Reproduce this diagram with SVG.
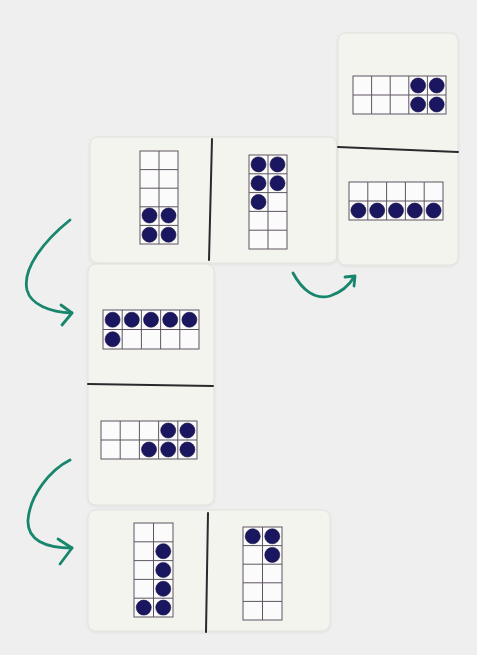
<svg xmlns="http://www.w3.org/2000/svg" width="477" height="655" viewBox="0 0 477 655">
  <defs>
    <style>
      .bg { fill: #efeff0; }
      .card { fill: #f4f4ef; stroke: #e2e2dc; stroke-width: 1; }
      .div { stroke: #2a2a2e; stroke-width: 2; fill: none; stroke-linecap: round; }
      .frame { fill: #fbfbfb; stroke: #5e5560; stroke-width: 1; }
      .grid { stroke: #5e5560; stroke-width: 1; fill: none; }
      .dot { fill: #1b1660; stroke: #0f0c3a; stroke-width: 0.6; }
      .arrow { stroke: #17866c; stroke-width: 2.8; fill: none; stroke-linecap: round; stroke-linejoin: round; }
    </style>
    <filter id="sh" x="-10%" y="-10%" width="120%" height="120%">
      <feDropShadow dx="0" dy="1" stdDeviation="1.5" flood-color="#000" flood-opacity="0.08"/>
    </filter>
  </defs>

  <rect class="bg" x="0" y="0" width="477" height="655"/>

  <!-- Card 1: horizontal domino, 4 | 5 -->
  <g id="card1">
    <rect class="card" filter="url(#sh)" x="90" y="137" width="247" height="126" rx="8"/>
    <path class="div" d="M212,139 L209,260"/>
    <rect class="frame" x="140" y="151" width="38" height="93"/>
    <path class="grid" d="M159,151 V244 M140,169.6 H178 M140,188.2 H178 M140,206.8 H178 M140,225.4 H178"/>
    <circle class="dot" cx="149.5" cy="215.5" r="7.5"/>
    <circle class="dot" cx="168.5" cy="215.5" r="7.5"/>
    <circle class="dot" cx="149.5" cy="234.7" r="7.5"/>
    <circle class="dot" cx="168.5" cy="234.7" r="7.5"/>
    <rect class="frame" x="249" y="155" width="38" height="94"/>
    <path class="grid" d="M268,155 V249 M249,173.8 H287 M249,192.6 H287 M249,211.4 H287 M249,230.2 H287"/>
    <circle class="dot" cx="258.5" cy="164.4" r="7.5"/>
    <circle class="dot" cx="277.5" cy="164.4" r="7.5"/>
    <circle class="dot" cx="258.5" cy="183.2" r="7.5"/>
    <circle class="dot" cx="277.5" cy="183.2" r="7.5"/>
    <circle class="dot" cx="258.5" cy="202" r="7.5"/>
  </g>

  <!-- Card 2: vertical domino, 4 / 5 -->
  <g id="card2">
    <rect class="card" filter="url(#sh)" x="338" y="33" width="120" height="232" rx="8"/>
    <path class="div" d="M338,147 L458,152"/>
    <rect class="frame" x="353" y="76" width="93" height="38"/>
    <path class="grid" d="M371.6,76 V114 M390.2,76 V114 M408.8,76 V114 M427.4,76 V114 M353,95 H446"/>
    <circle class="dot" cx="418.1" cy="85.5" r="7.5"/>
    <circle class="dot" cx="436.7" cy="85.5" r="7.5"/>
    <circle class="dot" cx="418.1" cy="104.5" r="7.5"/>
    <circle class="dot" cx="436.7" cy="104.5" r="7.5"/>
    <rect class="frame" x="349" y="182" width="94" height="38"/>
    <path class="grid" d="M367.8,182 V220 M386.6,182 V220 M405.4,182 V220 M424.2,182 V220 M349,201 H443"/>
    <circle class="dot" cx="358.4" cy="210.5" r="7.5"/>
    <circle class="dot" cx="377.2" cy="210.5" r="7.5"/>
    <circle class="dot" cx="396" cy="210.5" r="7.5"/>
    <circle class="dot" cx="414.8" cy="210.5" r="7.5"/>
    <circle class="dot" cx="433.6" cy="210.5" r="7.5"/>
  </g>

  <!-- Card 3: vertical domino, 6 / 5 -->
  <g id="card3">
    <rect class="card" filter="url(#sh)" x="88" y="264" width="126" height="241" rx="8"/>
    <path class="div" d="M88,384 L213,386"/>
    <rect class="frame" x="103" y="310" width="96" height="39"/>
    <path class="grid" d="M122.2,310 V349 M141.4,310 V349 M160.6,310 V349 M179.8,310 V349 M103,329.5 H199"/>
    <circle class="dot" cx="112.6" cy="319.75" r="7.5"/>
    <circle class="dot" cx="131.8" cy="319.75" r="7.5"/>
    <circle class="dot" cx="151" cy="319.75" r="7.5"/>
    <circle class="dot" cx="170.2" cy="319.75" r="7.5"/>
    <circle class="dot" cx="189.4" cy="319.75" r="7.5"/>
    <circle class="dot" cx="112.6" cy="339.25" r="7.5"/>
    <rect class="frame" x="101" y="421" width="96" height="38"/>
    <path class="grid" d="M120.2,421 V459 M139.4,421 V459 M158.6,421 V459 M177.8,421 V459 M101,440 H197"/>
    <circle class="dot" cx="168.2" cy="430.5" r="7.5"/>
    <circle class="dot" cx="187.4" cy="430.5" r="7.5"/>
    <circle class="dot" cx="149" cy="449.5" r="7.5"/>
    <circle class="dot" cx="168.2" cy="449.5" r="7.5"/>
    <circle class="dot" cx="187.4" cy="449.5" r="7.5"/>
  </g>

  <!-- Card 4: horizontal domino, 5 | 3 -->
  <g id="card4">
    <rect class="card" filter="url(#sh)" x="88" y="510" width="242" height="121" rx="8"/>
    <path class="div" d="M208,513 L206,632"/>
    <rect class="frame" x="134" y="523" width="39" height="94"/>
    <path class="grid" d="M153.5,523 V617 M134,541.8 H173 M134,560.6 H173 M134,579.4 H173 M134,598.2 H173"/>
    <circle class="dot" cx="163.25" cy="551.2" r="7.5"/>
    <circle class="dot" cx="163.25" cy="570" r="7.5"/>
    <circle class="dot" cx="163.25" cy="588.8" r="7.5"/>
    <circle class="dot" cx="163.25" cy="607.6" r="7.5"/>
    <circle class="dot" cx="143.75" cy="607.6" r="7.5"/>
    <rect class="frame" x="243" y="527" width="39" height="93"/>
    <path class="grid" d="M262.5,527 V620 M243,545.6 H282 M243,564.2 H282 M243,582.8 H282 M243,601.4 H282"/>
    <circle class="dot" cx="252.75" cy="536.3" r="7.5"/>
    <circle class="dot" cx="272.25" cy="536.3" r="7.5"/>
    <circle class="dot" cx="272.25" cy="554.9" r="7.5"/>
  </g>

  <!-- Connectors: hand-drawn green arrows -->
  <g id="connectors">
    <path class="arrow" d="M70,220 C45,240 22,268 27,290 C31,305 50,312 72,313"/>
    <path class="arrow" d="M61,305 L72,313 L62,325"/>
    <path class="arrow" d="M293,273 C302,290 315,300 330,296 C342,292 350,284 354,277"/>
    <path class="arrow" d="M345,277 L355,276 L354,286"/>
    <path class="arrow" d="M70,460 C50,470 30,495 28,520 C27,540 45,548 72,548"/>
    <path class="arrow" d="M58,539 L72,548 L60,564"/>
  </g>
</svg>
